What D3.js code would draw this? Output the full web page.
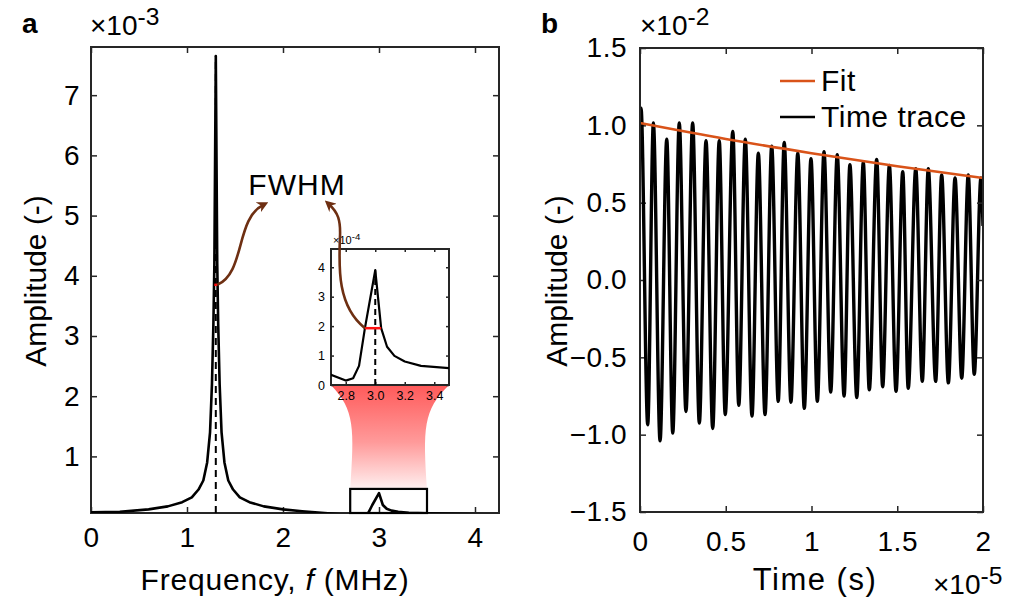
<!DOCTYPE html>
<html lang="en">
<head>
    <meta charset="UTF-8">
    <title>Spectrum and time trace</title>
    <script src="https://d3js.org/d3.v7.min.js"></script>
    <style>
        body { margin: 0; background: #fff; }
        svg { display: block; font-family: "Liberation Sans", Arial, Helvetica, sans-serif; }
        .tick line { stroke: #262626; stroke-width: 1.5; }
        .tick text { fill: #000; letter-spacing: 0.5px; }
    </style>
</head>
<body>
<svg id="chart" width="1016" height="604"></svg>

<script>
    // panel a: amplitude spectrum (x1e-3) vs frequency (MHz)
    const freq = [0, 0.3, 0.6, 0.8, 0.95, 1.05, 1.12, 1.17, 1.21, 1.24, 1.26, 1.275, 1.285, 1.3,
        1.315, 1.325, 1.34, 1.36, 1.39, 1.43, 1.48, 1.55, 1.65, 1.8, 2.0, 2.2, 2.4, 2.6, 2.7,
        2.8, 2.85, 2.89, 2.93, 3.0, 3.04, 3.08, 3.13, 3.2, 3.31, 3.5, 3.8, 4.25];
    const spectrum = [0.07, 0.08, 0.12, 0.17, 0.24, 0.32, 0.45, 0.6, 0.9, 1.4, 2.2, 3.2, 4.2, 7.65,
        4.2, 3.2, 2.2, 1.4, 0.9, 0.6, 0.45, 0.32, 0.24, 0.17, 0.12, 0.09, 0.065, 0.04, 0.035,
        0.015, 0.023, 0.065, 0.193, 0.39, 0.193, 0.13, 0.099, 0.08, 0.065, 0.057, 0.045, 0.035];
    const freqTicks = [0, 1, 2, 3, 4];
    const ampTicks = [1, 2, 3, 4, 5, 6, 7];
    const peak = [1.3, 7.65];
    const fwhmMain = [1.284, 1.316];
    const halfMain = 3.85;

    // inset (x1e-4)
    const insetFreqTicks = [2.8, 3.0, 3.2, 3.4];
    const insetAmpTicks = [0, 1, 2, 3, 4];
    const insetPeak = [3.0, 3.9];
    const fwhmInset = [2.93, 3.04];
    const halfInset = 1.93;
    const zoomBox = [2.7, 3.5, 0.46];

    // panel b: time trace (x1e-2) vs time (x1e-5 s)
    const traceT = [0, 0.006, 0.045, 0.078, 0.117, 0.156, 0.191, 0.229, 0.268, 0.307, 0.346, 0.385,
        0.424, 0.462, 0.497, 0.541, 0.576, 0.614, 0.653, 0.690, 0.729, 0.768, 0.806, 0.841, 0.880,
        0.920, 0.958, 0.997, 1.034, 1.073, 1.112, 1.150, 1.190, 1.224, 1.264, 1.302, 1.337, 1.380,
        1.415, 1.454, 1.493, 1.532, 1.564, 1.608, 1.646, 1.681, 1.724, 1.759, 1.798, 1.837, 1.876,
        1.914, 1.949, 1.988, 2.0];
    const traceA = [1.0, 1.11, -0.936, 1.015, -1.04, 0.91, -0.99, 1.015, -0.85, 1.015, -0.925, 0.90,
        -0.96, 0.90, -0.87, 0.96, -0.81, 0.91, -0.88, 0.82, -0.87, 0.865, -0.785, 0.89, -0.79,
        0.82, -0.83, 0.785, -0.785, 0.83, -0.725, 0.81, -0.75, 0.745, -0.76, 0.76, -0.71, 0.78,
        -0.69, 0.74, -0.72, 0.70, -0.70, 0.72, -0.655, 0.72, -0.655, 0.68, -0.665, 0.66, -0.635,
        0.68, -0.61, 0.66, 0.35];
    const fitT = [0, 0.5, 1, 1.5, 2];
    const fitA = [1.015, 0.912, 0.82, 0.735, 0.66];
    const timeTicks = [0, 0.5, 1, 1.5, 2];
    const ampTicksB = [-1.5, -1.0, -0.5, 0, 0.5, 1.0, 1.5];

    const ink = "#262626";
    const brown = "#6e2f12";
    const orange = "#D95319";

    const svg = d3.select("#chart");
    const defs = svg.append("defs");

    defs.append("marker")
        .attr("id", "head")
        .attr("viewBox", "0 0 10 10")
        .attr("refX", 5).attr("refY", 5)
        .attr("markerWidth", 11).attr("markerHeight", 11)
        .attr("markerUnits", "userSpaceOnUse")
        .attr("orient", "auto")
        .append("path")
        .attr("d", "M0,0 L10,5 L0,10 L3,5 Z")
        .attr("fill", brown);

    const grad = defs.append("linearGradient")
        .attr("id", "zoomFade")
        .attr("x1", 0).attr("y1", 0).attr("x2", 0).attr("y2", 1);
    grad.append("stop").attr("offset", "0%").attr("stop-color", "#ff5a5a");
    grad.append("stop").attr("offset", "55%").attr("stop-color", "#ff9a9a");
    grad.append("stop").attr("offset", "100%").attr("stop-color", "#fff0f0");

    function superLabel(x, y, base, exp, size) {
        const t = svg.append("text")
            .attr("x", x).attr("y", y)
            .attr("font-size", size)
            .text(base);
        t.append("tspan")
            .attr("dy", -size * 0.36)
            .attr("font-size", size * 0.88)
            .text(exp);
        return t;
    }

    function frame(g, x, y, tick, xt, yt) {
        const [x0, x1] = x.range();
        const [y0, y1] = y.range();
        g.append("g").attr("transform", `translate(0,${y1})`)
            .call(d3.axisTop(x).tickValues(xt).tickSize(-tick).tickFormat(""))
            .call(a => a.select(".domain").remove());
        g.append("g").attr("transform", `translate(${x1},0)`)
            .call(d3.axisRight(y).tickValues(yt).tickSize(-tick).tickFormat(""))
            .call(a => a.select(".domain").remove());
        g.append("rect")
            .attr("x", x0).attr("y", y1)
            .attr("width", x1 - x0).attr("height", y0 - y1)
            .attr("fill", "none")
            .attr("stroke", ink)
            .attr("stroke-width", 2);
    }

    // ---------------- panel a ----------------
    const xA = d3.scaleLinear().domain([0, 4.25]).range([91, 499]);
    const yA = d3.scaleLinear().domain([0.06, 7.8]).range([513, 47]);

    const gA = svg.append("g");

    defs.append("clipPath").attr("id", "clipA")
        .append("rect")
        .attr("x", 91).attr("y", 47)
        .attr("width", 408).attr("height", 466);

    gA.append("g")
        .attr("transform", `translate(0,${yA.range()[0]})`)
        .call(d3.axisBottom(xA).tickValues(freqTicks).tickSize(-6).tickPadding(14).tickFormat(d3.format("d")))
        .call(a => a.select(".domain").remove())
        .selectAll("text").attr("font-size", 28);

    gA.append("g")
        .attr("transform", `translate(${xA.range()[0]},0)`)
        .call(d3.axisLeft(yA).tickValues(ampTicks).tickSize(-6).tickPadding(11).tickFormat(d3.format("d")))
        .call(a => a.select(".domain").remove())
        .selectAll("text").attr("font-size", 28);

    frame(gA, xA, yA, 6, freqTicks, ampTicks);

    // zoom funnel between the little box and the inset
    const xI = d3.scaleLinear().domain([2.7, 3.5]).range([331, 449]);
    const yI = d3.scaleLinear().domain([0, 4.62]).range([385, 249]);

    const tl = [xI(zoomBox[0]), yI(0)], tr = [xI(zoomBox[1]), yI(0)];
    const bl = [xA(zoomBox[0]), yA(zoomBox[2])], br = [xA(zoomBox[1]), yA(zoomBox[2])];
    gA.append("path")
        .attr("d", `M${tl} L${tr} C${tr[0] - 26},${tr[1] + 25} ${br[0] - 4},${br[1] - 60} ${br}
                    L${bl} C${bl[0] + 4},${bl[1] - 60} ${tl[0] + 24},${tl[1] + 25} ${tl} Z`)
        .attr("fill", "url(#zoomFade)");

    const lineA = d3.line().x((d, i) => xA(freq[i])).y(d => yA(d));

    gA.append("line")
        .attr("x1", xA(peak[0])).attr("x2", xA(peak[0]))
        .attr("y1", yA(0.06)).attr("y2", yA(peak[1]))
        .attr("stroke", "#000").attr("stroke-width", 2)
        .attr("stroke-dasharray", "7,5");

    gA.append("path")
        .datum(spectrum)
        .attr("clip-path", "url(#clipA)")
        .attr("fill", "none")
        .attr("stroke", "#000")
        .attr("stroke-width", 2.6)
        .attr("stroke-linejoin", "round")
        .attr("d", lineA);

    gA.append("line")
        .attr("x1", xA(fwhmMain[0])).attr("x2", xA(fwhmMain[1]))
        .attr("y1", yA(halfMain)).attr("y2", yA(halfMain))
        .attr("stroke", "#ff1010").attr("stroke-width", 2.5);

    gA.append("rect")
        .attr("x", bl[0]).attr("y", bl[1])
        .attr("width", br[0] - bl[0]).attr("height", yA(0.06) - bl[1])
        .attr("fill", "none")
        .attr("stroke", "#000").attr("stroke-width", 2.2);

    // inset
    const gI = svg.append("g");
    gI.append("rect")
        .attr("x", 331).attr("y", 249).attr("width", 118).attr("height", 136)
        .attr("fill", "#fff");
    defs.append("clipPath").attr("id", "clipI")
        .append("rect").attr("x", 331).attr("y", 249).attr("width", 118).attr("height", 136);

    gI.append("g")
        .attr("transform", `translate(0,${yI.range()[0]})`)
        .call(d3.axisBottom(xI).tickValues(insetFreqTicks).tickSize(-3).tickPadding(6).tickFormat(d3.format(".1f")))
        .call(a => a.select(".domain").remove())
        .selectAll("text").attr("font-size", 12.5).style("letter-spacing", "0");
    gI.append("g")
        .attr("transform", `translate(${xI.range()[0]},0)`)
        .call(d3.axisLeft(yI).tickValues(insetAmpTicks).tickSize(-3).tickPadding(6).tickFormat(d3.format("d")))
        .call(a => a.select(".domain").remove())
        .selectAll("text").attr("font-size", 12.5).style("letter-spacing", "0");
    frame(gI, xI, yI, 3, insetFreqTicks, insetAmpTicks);

    gI.append("line")
        .attr("x1", xI(insetPeak[0])).attr("x2", xI(insetPeak[0]))
        .attr("y1", yI(0)).attr("y2", yI(insetPeak[1]))
        .attr("stroke", "#000").attr("stroke-width", 2)
        .attr("stroke-dasharray", "6,4");

    gI.append("path")
        .datum(spectrum)
        .attr("clip-path", "url(#clipI)")
        .attr("fill", "none")
        .attr("stroke", "#000")
        .attr("stroke-width", 2.2)
        .attr("stroke-linejoin", "round")
        .attr("d", d3.line().x((d, i) => xI(freq[i])).y(d => yI(d * 10)));

    gI.append("line")
        .attr("x1", xI(fwhmInset[0])).attr("x2", xI(fwhmInset[1]))
        .attr("y1", yI(halfInset)).attr("y2", yI(halfInset))
        .attr("stroke", "#ff1010").attr("stroke-width", 2.5);

    superLabel(333, 244, "×10", "-4", 11);

    // FWHM annotation
    svg.append("text")
        .attr("x", 297).attr("y", 195)
        .attr("text-anchor", "middle")
        .attr("font-size", 30)
        .style("letter-spacing", "1px")
        .text("FWHM");

    const s1 = [xA(fwhmMain[1]), yA(halfMain)];
    svg.append("path")
        .attr("d", `M${s1} C${s1[0] + 28},${s1[1] - 12} ${s1[0] + 18},${s1[1] - 66} ${s1[0] + 46},${s1[1] - 80}`)
        .attr("fill", "none").attr("stroke", brown).attr("stroke-width", 2.6)
        .attr("marker-end", "url(#head)");

    const s2 = [xI(fwhmInset[0]), yI(halfInset)];
    svg.append("path")
        .attr("d", `M${s2} C${s2[0] - 28},${s2[1] - 22} ${s2[0] - 26},${s2[1] - 62} ${s2[0] - 25},${s2[1] - 90}
                    C${s2[0] - 24},${s2[1] - 108} ${s2[0] - 27},${s2[1] - 116} ${s2[0] - 36},${s2[1] - 124}`)
        .attr("fill", "none").attr("stroke", brown).attr("stroke-width", 2.6)
        .attr("marker-end", "url(#head)");

    svg.append("text")
        .attr("x", 275).attr("y", 590)
        .attr("text-anchor", "middle")
        .attr("font-size", 30)
        .style("letter-spacing", "0.8px")
        .html('Frequency, <tspan font-style="italic">f</tspan> (MHz)');

    svg.append("text")
        .attr("transform", "translate(46,281) rotate(-90)")
        .attr("text-anchor", "middle")
        .attr("font-size", 30)
        .text("Amplitude (-)");

    superLabel(90, 35, "×10", "-3", 28);
    svg.append("text").attr("x", 22).attr("y", 33)
        .attr("font-size", 28).attr("font-weight", "bold").text("a");

    // ---------------- panel b ----------------
    const xB = d3.scaleLinear().domain([0, 2]).range([640, 983]);
    const yB = d3.scaleLinear().domain([-1.5, 1.5]).range([512, 48]);
    const gB = svg.append("g");

    gB.append("g")
        .attr("transform", `translate(0,${yB.range()[0]})`)
        .call(d3.axisBottom(xB).tickValues(timeTicks).tickSize(-6).tickPadding(19).tickFormat(d3.format("")))
        .call(a => a.select(".domain").remove())
        .selectAll("text").attr("font-size", 28);

    gB.append("g")
        .attr("transform", `translate(${xB.range()[0]},0)`)
        .call(d3.axisLeft(yB).tickValues(ampTicksB).tickSize(-6).tickPadding(13).tickFormat(d3.format(".1f")))
        .call(a => a.select(".domain").remove())
        .selectAll("text").attr("font-size", 28);

    defs.append("clipPath").attr("id", "clipB")
        .append("rect").attr("x", 640).attr("y", 48).attr("width", 343).attr("height", 464);

    gB.append("path")
        .datum(traceA)
        .attr("clip-path", "url(#clipB)")
        .attr("fill", "none")
        .attr("stroke", "#000")
        .attr("stroke-width", 3.4)
        .attr("d", d3.line().x((d, i) => xB(traceT[i])).y(d => yB(d)).curve(d3.curveMonotoneX));

    gB.append("path")
        .datum(fitA)
        .attr("fill", "none")
        .attr("stroke", orange)
        .attr("stroke-width", 2.6)
        .attr("d", d3.line().x((d, i) => xB(fitT[i])).y(d => yB(d)).curve(d3.curveMonotoneX));

    frame(gB, xB, yB, 6, timeTicks, ampTicksB);

    // legend
    const legend = [["Fit", orange, 81], ["Time trace", "#000", 117]];
    legend.forEach(([name, col, y]) => {
        gB.append("line")
            .attr("x1", 780).attr("x2", 815).attr("y1", y).attr("y2", y)
            .attr("stroke", col).attr("stroke-width", 2.6);
        gB.append("text")
            .attr("x", 821).attr("y", y + 10)
            .attr("font-size", 30)
            .style("letter-spacing", "0.5px")
            .text(name);
    });

    svg.append("text")
        .attr("x", 815).attr("y", 590)
        .attr("text-anchor", "middle")
        .attr("font-size", 31)
        .style("letter-spacing", "1.5px")
        .text("Time (s)");

    svg.append("text")
        .attr("transform", "translate(567,281) rotate(-90)")
        .attr("text-anchor", "middle")
        .attr("font-size", 30)
        .text("Amplitude (-)");

    superLabel(640, 35, "×10", "-2", 28);
    superLabel(933, 594, "×10", "-5", 28);
    svg.append("text").attr("x", 541).attr("y", 33)
        .attr("font-size", 28).attr("font-weight", "bold").text("b");
</script>
</body>
</html>
